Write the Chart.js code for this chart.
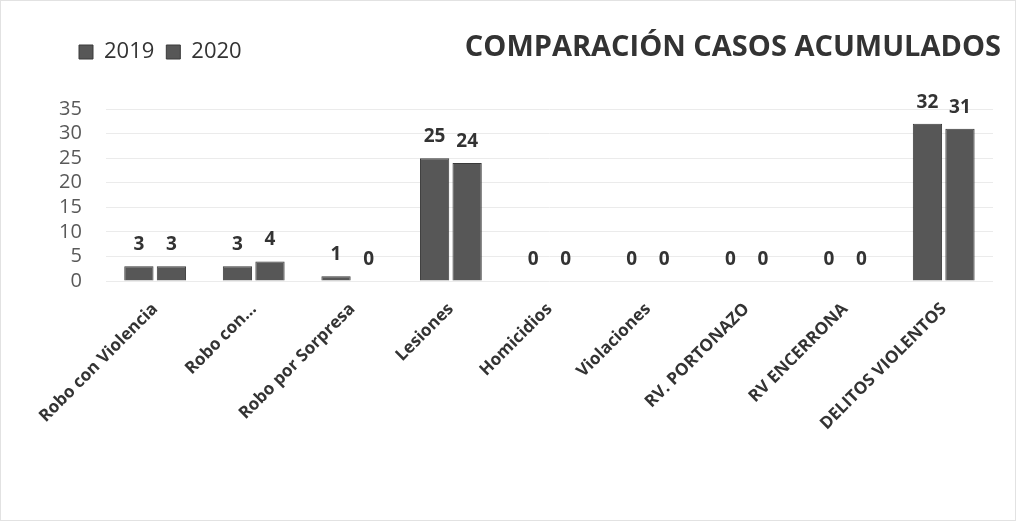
<!DOCTYPE html>
<html>
<head>
<meta charset="utf-8">
<script src="https://cdn.jsdelivr.net/npm/chart.js@4/dist/chart.umd.min.js"></script>
<style>
  html, body { margin: 0; padding: 0; background: #ffffff; }
  #wrap { position: relative; width: 1016px; height: 521px; box-sizing: border-box; border: 1px solid #e2e2e2; }
</style>
</head>
<body>
<div id="wrap"><canvas id="c"></canvas></div>
<script>
const categories = ["Robo con Violencia", "Robo con...", "Robo por Sorpresa", "Lesiones", "Homicidios", "Violaciones", "RV. PORTONAZO", "RV ENCERRONA", "DELITOS VIOLENTOS"];
const values2019 = [3, 3, 1, 25, 0, 0, 0, 0, 32];
const values2020 = [3, 4, 0, 24, 0, 0, 0, 0, 31];
const yTicks = [0, 5, 10, 15, 20, 25, 30, 35];
const titleText = "COMPARACIÓN CASOS ACUMULADOS";

const FONT = "'Open Sans', 'Noto Sans', sans-serif";

const valueLabels = {
  id: 'valueLabels',
  afterDatasetsDraw(chart) {
    const ctx = chart.ctx;
    ctx.save();
    ctx.font = "bold 19px " + FONT;
    ctx.fillStyle = '#333333';
    ctx.textAlign = 'center';
    ctx.textBaseline = 'bottom';
    chart.data.datasets.forEach((ds, i) => {
      chart.getDatasetMeta(i).data.forEach((bar, j) => {
        ctx.fillText(String(ds.data[j]), bar.x, bar.y - 12);
      });
    });
    ctx.restore();
  }
};

const titlePlugin = {
  id: 'sideTitle',
  afterDraw(chart) {
    const ctx = chart.ctx;
    ctx.save();
    ctx.font = "bold 29px " + FONT;
    ctx.fillStyle = '#333333';
    ctx.textAlign = 'right';
    ctx.textBaseline = 'middle';
    ctx.fillText(titleText, 1000, 47);
    ctx.restore();
  }
};

const legendSpace = {
  id: 'legendSpace',
  beforeInit(chart) {
    const origFit = chart.legend.fit;
    chart.legend.fit = function () {
      origFit.bind(chart.legend)();
      this.height += 36;
    };
  },
  afterUpdate(chart) {
    const lg = chart.legend;
    lg.left += 32;
    lg.right += 32;
    if (lg.adjustHitBoxes) lg.adjustHitBoxes();
  }
};

new Chart(document.getElementById('c'), {
  type: 'bar',
  data: {
    labels: categories,
    datasets: [
      { label: '2019', data: values2019, backgroundColor: '#575757', borderColor: '#3a3a3a', borderWidth: 1 },
      { label: '2020', data: values2020, backgroundColor: '#575757', borderColor: '#3a3a3a', borderWidth: 1 }
    ]
  },
  options: {
    responsive: true,
    maintainAspectRatio: false,
    animation: false,
    layout: { padding: { top: 28, left: 34, right: 22, bottom: 76 } },
    datasets: { bar: { categoryPercentage: 0.66, barPercentage: 0.9 } },
    scales: {
      x: {
        grid: { display: false },
        border: { display: false },
        ticks: {
          color: '#333333',
          padding: 10,
          font: { family: FONT, size: 17, weight: 'bold' },
          maxRotation: 45,
          minRotation: 45,
          autoSkip: false
        }
      },
      y: {
        min: 0,
        max: 35,
        afterBuildTicks(axis) { axis.ticks = yTicks.map(v => ({ value: v })); },
        grid: { color: '#ebebeb', drawTicks: false },
        border: { display: false },
        ticks: {
          color: '#595959',
          padding: 24,
          autoSkip: false,
          font: { family: FONT, size: 20, lineHeight: 1.0 }
        }
      }
    },
    plugins: {
      legend: {
        position: 'top',
        align: 'start',
        labels: {
          color: '#333333',
          font: { family: FONT, size: 22 },
          boxWidth: 14,
          boxHeight: 14,
          padding: 12
        }
      },
      tooltip: { enabled: false }
    }
  },
  plugins: [valueLabels, titlePlugin, legendSpace]
});
</script>
</body>
</html>
